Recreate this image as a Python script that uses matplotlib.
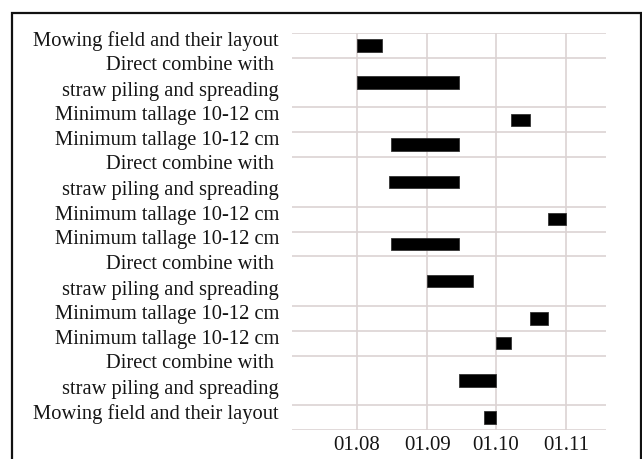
import datetime as dt
import matplotlib
matplotlib.use("Agg")
import matplotlib.pyplot as plt
import matplotlib.dates as mdates
import matplotlib.transforms as mtransforms
from matplotlib.patches import Rectangle

plt.rcParams['font.family'] = ['Liberation Serif', 'DejaVu Serif']

# data ------------------------------------------------------------------------
tasks = [
    "Mowing field and their layout",
    "Direct combine with \nstraw piling and spreading",
    "Minimum tallage 10-12 cm",
    "Minimum tallage 10-12 cm",
    "Direct combine with \nstraw piling and spreading",
    "Minimum tallage 10-12 cm",
    "Minimum tallage 10-12 cm",
    "Direct combine with \nstraw piling and spreading",
    "Minimum tallage 10-12 cm",
    "Minimum tallage 10-12 cm",
    "Direct combine with \nstraw piling and spreading",
    "Mowing field and their layout",
]
starts = ["2021-08-01", "2021-08-01", "2021-10-08", "2021-08-16",
          "2021-08-15", "2021-10-24", "2021-08-16", "2021-09-01",
          "2021-10-16", "2021-10-01", "2021-09-15", "2021-09-26"]
ends = ["2021-08-12", "2021-09-15", "2021-10-16", "2021-09-15",
        "2021-09-15", "2021-11-01", "2021-09-15", "2021-09-21",
        "2021-10-24", "2021-10-08", "2021-10-01", "2021-10-01"]
ticks = ["2021-08-01", "2021-09-01", "2021-10-01", "2021-11-01"]

to_num = lambda s: mdates.date2num(dt.datetime.strptime(s, "%Y-%m-%d"))

# figure ----------------------------------------------------------------------
fig = plt.figure(figsize=(6.42, 4.59), dpi=100)
ax = fig.add_axes([292 / 642, 1 - 430 / 459, 314 / 642, 397 / 459])

grid_c = '#dbd3d3'
txt_c = '#151515'
heights = [t.count("\n") + 1 for t in tasks]
edges = [0]
for h in heights:
    edges.append(edges[-1] + h)

for e in edges:
    ax.axhline(e, color=grid_c, lw=1.2, zorder=1)

shift = mtransforms.ScaledTranslation(0, 4 / 100, fig.dpi_scale_trans)
lab_tr = mtransforms.blended_transform_factory(ax.transAxes, ax.transData) + shift

for i, t in enumerate(tasks):
    yc = (edges[i] + edges[i + 1]) / 2
    s, e = to_num(starts[i]), to_num(ends[i])
    ax.barh(yc, e - s, left=s, height=0.5, color='black',
            edgecolor='#333333', lw=0.6, zorder=3)
    ax.text(-13 / 314, yc, t, transform=lab_tr, ha='right', va='center',
            fontsize=14.8, color=txt_c, linespacing=1.5)

tick_nums = [to_num(t) for t in ticks]
ax.set_xticks(tick_nums)
ax.xaxis.set_major_formatter(mdates.DateFormatter('%d.%m'))
ax.xaxis.grid(True, color=grid_c, lw=1.2, zorder=1)
ax.set_axisbelow(True)
ax.tick_params(axis='x', length=0, labelsize=15, pad=4, labelcolor=txt_c)
ax.set_yticks([])

d0, d1 = tick_nums[0], tick_nums[-1]
ppd = (566 - 357) / (d1 - d0)
ax.set_xlim(d0 - (357 - 292) / ppd, d1 + (606 - 566) / ppd)
ax.set_ylim(edges[-1], 0)
for sp in ax.spines.values():
    sp.set_visible(False)

# outer frame
fig.add_artist(Rectangle((12 / 642, -0.05), 629 / 642, 1.05 - 13.5 / 459,
                         transform=fig.transFigure, fill=False,
                         edgecolor='#111111', lw=1.6, clip_on=False))

fig.savefig("out.png", dpi=100)
